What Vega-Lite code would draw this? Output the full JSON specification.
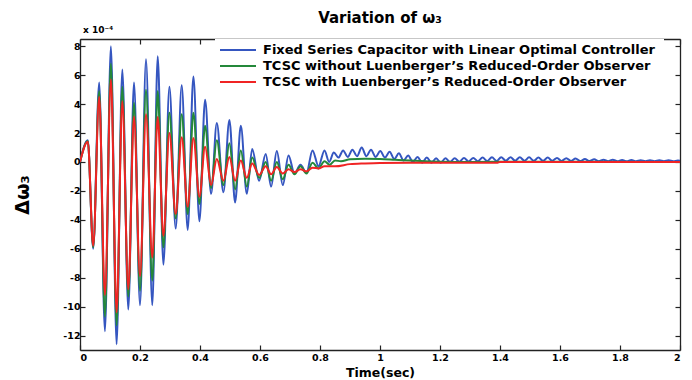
{
  "$schema": "https://vega.github.io/schema/vega-lite/v6.json",
  "width": 600,
  "height": 311,
  "autosize": {"type": "none"},
  "padding": {"left": 80, "top": 39, "right": 12, "bottom": 30},
  "background": "white",
  "config": {
    "view": {"stroke": null},
    "font": "DejaVu Sans",
    "axis": {
      "domainColor": "#222222",
      "domainWidth": 1.3,
      "tickColor": "#222222",
      "tickWidth": 1.2,
      "tickSize": -5,
      "grid": false,
      "labelFont": "DejaVu Sans",
      "labelFontWeight": "bold",
      "labelFontSize": 9.5,
      "labelColor": "#000000",
      "titleFont": "DejaVu Sans",
      "titleFontWeight": "bold",
      "titleColor": "#000000"
    }
  },
  "title": {
    "text": "Variation of ω₃",
    "fontSize": 15,
    "fontWeight": "bold",
    "font": "DejaVu Sans",
    "color": "#000000",
    "anchor": "middle",
    "offset": 0
  },
  "data": {
    "values": [
      {"t": 0, "s": "A", "v": 0}, {"t": 0.026, "s": "A", "v": 1.5}, {"t": 0.044, "s": "A", "v": -6.0}, {"t": 0.064, "s": "A", "v": 5.5},
      {"t": 0.083, "s": "A", "v": -11.7}, {"t": 0.103, "s": "A", "v": 8.0}, {"t": 0.122, "s": "A", "v": -12.6}, {"t": 0.141, "s": "A", "v": 6.4},
      {"t": 0.161, "s": "A", "v": -10.2}, {"t": 0.18, "s": "A", "v": 5.5}, {"t": 0.2, "s": "A", "v": -9.9}, {"t": 0.22, "s": "A", "v": 7.1},
      {"t": 0.241, "s": "A", "v": -9.9}, {"t": 0.259, "s": "A", "v": 7.3}, {"t": 0.278, "s": "A", "v": -7.1}, {"t": 0.298, "s": "A", "v": 5.2},
      {"t": 0.319, "s": "A", "v": -4.6}, {"t": 0.339, "s": "A", "v": 5.3}, {"t": 0.359, "s": "A", "v": -4.7}, {"t": 0.378, "s": "A", "v": 5.9},
      {"t": 0.398, "s": "A", "v": -4.1}, {"t": 0.417, "s": "A", "v": 4.3}, {"t": 0.437, "s": "A", "v": -2.2}, {"t": 0.456, "s": "A", "v": 2.7},
      {"t": 0.478, "s": "A", "v": -2.1}, {"t": 0.498, "s": "A", "v": 2.9}, {"t": 0.517, "s": "A", "v": -2.8}, {"t": 0.536, "s": "A", "v": 2.5},
      {"t": 0.556, "s": "A", "v": -2.2}, {"t": 0.574, "s": "A", "v": 0.9}, {"t": 0.597, "s": "A", "v": -1.3}, {"t": 0.619, "s": "A", "v": 0.55},
      {"t": 0.637, "s": "A", "v": -1.7}, {"t": 0.656, "s": "A", "v": 0.75}, {"t": 0.676, "s": "A", "v": -1.6}, {"t": 0.695, "s": "A", "v": 0.45},
      {"t": 0.715, "s": "A", "v": -0.8}, {"t": 0.735, "s": "A", "v": -0.2}, {"t": 0.755, "s": "A", "v": -0.75}, {"t": 0.775, "s": "A", "v": 0.8},
      {"t": 0.795, "s": "A", "v": -0.3}, {"t": 0.815, "s": "A", "v": 0.8}, {"t": 0.8305, "s": "A", "v": 0.0}, {"t": 0.846, "s": "A", "v": 0.65},
      {"t": 0.8615, "s": "A", "v": 0.3}, {"t": 0.877, "s": "A", "v": 0.8}, {"t": 0.8925, "s": "A", "v": 0.35}, {"t": 0.908, "s": "A", "v": 0.85},
      {"t": 0.9235, "s": "A", "v": 0.4}, {"t": 0.939, "s": "A", "v": 1.0}, {"t": 0.9545, "s": "A", "v": 0.4}, {"t": 0.97, "s": "A", "v": 0.85},
      {"t": 0.9855, "s": "A", "v": 0.35}, {"t": 1.001, "s": "A", "v": 0.75}, {"t": 1.0165, "s": "A", "v": 0.3}, {"t": 1.032, "s": "A", "v": 0.7},
      {"t": 1.0475, "s": "A", "v": 0.2}, {"t": 1.063, "s": "A", "v": 0.6}, {"t": 1.0785, "s": "A", "v": 0.1}, {"t": 1.094, "s": "A", "v": 0.45},
      {"t": 1.1095, "s": "A", "v": 0.0}, {"t": 1.125, "s": "A", "v": 0.35}, {"t": 1.1405, "s": "A", "v": -0.05}, {"t": 1.156, "s": "A", "v": 0.3},
      {"t": 1.1715, "s": "A", "v": -0.05}, {"t": 1.187, "s": "A", "v": 0.25}, {"t": 1.2025, "s": "A", "v": -0.05}, {"t": 1.218, "s": "A", "v": 0.25},
      {"t": 1.2335, "s": "A", "v": 0.0}, {"t": 1.249, "s": "A", "v": 0.25}, {"t": 1.2645, "s": "A", "v": 0.02}, {"t": 1.28, "s": "A", "v": 0.27},
      {"t": 1.2955, "s": "A", "v": 0.04}, {"t": 1.311, "s": "A", "v": 0.28}, {"t": 1.3265, "s": "A", "v": 0.05}, {"t": 1.342, "s": "A", "v": 0.3},
      {"t": 1.3575, "s": "A", "v": 0.06}, {"t": 1.373, "s": "A", "v": 0.32}, {"t": 1.3885, "s": "A", "v": 0.07}, {"t": 1.404, "s": "A", "v": 0.33},
      {"t": 1.4195, "s": "A", "v": 0.08}, {"t": 1.435, "s": "A", "v": 0.33}, {"t": 1.4505, "s": "A", "v": 0.08}, {"t": 1.466, "s": "A", "v": 0.33},
      {"t": 1.4815, "s": "A", "v": 0.08}, {"t": 1.497, "s": "A", "v": 0.32}, {"t": 1.5125, "s": "A", "v": 0.08}, {"t": 1.528, "s": "A", "v": 0.3},
      {"t": 1.5435, "s": "A", "v": 0.08}, {"t": 1.559, "s": "A", "v": 0.3}, {"t": 1.5745, "s": "A", "v": 0.08}, {"t": 1.59, "s": "A", "v": 0.28},
      {"t": 1.6055, "s": "A", "v": 0.07}, {"t": 1.621, "s": "A", "v": 0.26}, {"t": 1.6365, "s": "A", "v": 0.07}, {"t": 1.652, "s": "A", "v": 0.24},
      {"t": 1.6675, "s": "A", "v": 0.06}, {"t": 1.683, "s": "A", "v": 0.2}, {"t": 1.6985, "s": "A", "v": 0.06}, {"t": 1.714, "s": "A", "v": 0.18},
      {"t": 1.7295, "s": "A", "v": 0.05}, {"t": 1.745, "s": "A", "v": 0.16}, {"t": 1.7605, "s": "A", "v": 0.05}, {"t": 1.776, "s": "A", "v": 0.15},
      {"t": 1.7915, "s": "A", "v": 0.05}, {"t": 1.807, "s": "A", "v": 0.14}, {"t": 1.8225, "s": "A", "v": 0.05}, {"t": 1.838, "s": "A", "v": 0.13},
      {"t": 1.8535, "s": "A", "v": 0.05}, {"t": 1.869, "s": "A", "v": 0.12}, {"t": 1.8845, "s": "A", "v": 0.05}, {"t": 1.9, "s": "A", "v": 0.12},
      {"t": 1.9155, "s": "A", "v": 0.05}, {"t": 1.931, "s": "A", "v": 0.11}, {"t": 1.9465, "s": "A", "v": 0.05}, {"t": 1.962, "s": "A", "v": 0.11},
      {"t": 1.9775, "s": "A", "v": 0.05}, {"t": 1.993, "s": "A", "v": 0.1}, {"t": 2.0, "s": "A", "v": 0.08},

      {"t": 0, "s": "B", "v": 0}, {"t": 0.026, "s": "B", "v": 1.45}, {"t": 0.044, "s": "B", "v": -5.9}, {"t": 0.064, "s": "B", "v": 4.9},
      {"t": 0.083, "s": "B", "v": -10.7}, {"t": 0.103, "s": "B", "v": 6.8}, {"t": 0.122, "s": "B", "v": -11.3}, {"t": 0.141, "s": "B", "v": 5.2},
      {"t": 0.161, "s": "B", "v": -9.3}, {"t": 0.18, "s": "B", "v": 4.1}, {"t": 0.2, "s": "B", "v": -8.9}, {"t": 0.22, "s": "B", "v": 5.0},
      {"t": 0.241, "s": "B", "v": -8.2}, {"t": 0.259, "s": "B", "v": 4.9}, {"t": 0.278, "s": "B", "v": -5.9}, {"t": 0.298, "s": "B", "v": 3.4},
      {"t": 0.319, "s": "B", "v": -3.9}, {"t": 0.339, "s": "B", "v": 3.3}, {"t": 0.359, "s": "B", "v": -3.6}, {"t": 0.378, "s": "B", "v": 3.4},
      {"t": 0.398, "s": "B", "v": -2.9}, {"t": 0.417, "s": "B", "v": 2.5}, {"t": 0.437, "s": "B", "v": -1.8}, {"t": 0.456, "s": "B", "v": 1.5},
      {"t": 0.478, "s": "B", "v": -1.6}, {"t": 0.498, "s": "B", "v": 1.3}, {"t": 0.517, "s": "B", "v": -1.9}, {"t": 0.536, "s": "B", "v": 0.8},
      {"t": 0.556, "s": "B", "v": -1.7}, {"t": 0.574, "s": "B", "v": 0.3}, {"t": 0.597, "s": "B", "v": -1.1}, {"t": 0.619, "s": "B", "v": 0.0},
      {"t": 0.637, "s": "B", "v": -1.3}, {"t": 0.656, "s": "B", "v": 0.0}, {"t": 0.676, "s": "B", "v": -1.2}, {"t": 0.695, "s": "B", "v": -0.2},
      {"t": 0.715, "s": "B", "v": -0.85}, {"t": 0.735, "s": "B", "v": -0.3}, {"t": 0.755, "s": "B", "v": -0.8}, {"t": 0.775, "s": "B", "v": -0.05},
      {"t": 0.795, "s": "B", "v": -0.45}, {"t": 0.815, "s": "B", "v": 0.05}, {"t": 0.832, "s": "B", "v": -0.2}, {"t": 0.85, "s": "B", "v": 0.1},
      {"t": 0.87, "s": "B", "v": 0.05}, {"t": 0.9, "s": "B", "v": 0.18}, {"t": 0.95, "s": "B", "v": 0.22}, {"t": 1.0, "s": "B", "v": 0.2},
      {"t": 1.05, "s": "B", "v": 0.15}, {"t": 1.1, "s": "B", "v": 0.1}, {"t": 1.15, "s": "B", "v": 0.05}, {"t": 1.2, "s": "B", "v": 0.02},
      {"t": 1.3, "s": "B", "v": 0.0}, {"t": 1.5, "s": "B", "v": 0.02}, {"t": 1.7, "s": "B", "v": 0.02}, {"t": 2.0, "s": "B", "v": 0.0},

      {"t": 0, "s": "C", "v": 0}, {"t": 0.026, "s": "C", "v": 1.4}, {"t": 0.044, "s": "C", "v": -5.8}, {"t": 0.064, "s": "C", "v": 4.5},
      {"t": 0.083, "s": "C", "v": -9.2}, {"t": 0.103, "s": "C", "v": 5.7}, {"t": 0.122, "s": "C", "v": -10.4}, {"t": 0.141, "s": "C", "v": 4.2},
      {"t": 0.161, "s": "C", "v": -8.8}, {"t": 0.18, "s": "C", "v": 3.15}, {"t": 0.2, "s": "C", "v": -7.9}, {"t": 0.22, "s": "C", "v": 3.3},
      {"t": 0.241, "s": "C", "v": -6.6}, {"t": 0.259, "s": "C", "v": 3.1}, {"t": 0.278, "s": "C", "v": -5.1}, {"t": 0.298, "s": "C", "v": 2.0},
      {"t": 0.319, "s": "C", "v": -3.6}, {"t": 0.339, "s": "C", "v": 1.7}, {"t": 0.359, "s": "C", "v": -3.1}, {"t": 0.378, "s": "C", "v": 1.65},
      {"t": 0.398, "s": "C", "v": -2.4}, {"t": 0.417, "s": "C", "v": 1.05}, {"t": 0.437, "s": "C", "v": -1.6}, {"t": 0.456, "s": "C", "v": 0.2},
      {"t": 0.478, "s": "C", "v": -1.3}, {"t": 0.498, "s": "C", "v": 0.35}, {"t": 0.517, "s": "C", "v": -1.3}, {"t": 0.536, "s": "C", "v": 0.1},
      {"t": 0.556, "s": "C", "v": -1.1}, {"t": 0.574, "s": "C", "v": -0.1}, {"t": 0.597, "s": "C", "v": -0.9}, {"t": 0.619, "s": "C", "v": -0.3},
      {"t": 0.637, "s": "C", "v": -0.85}, {"t": 0.656, "s": "C", "v": -0.35}, {"t": 0.676, "s": "C", "v": -0.8}, {"t": 0.695, "s": "C", "v": -0.5},
      {"t": 0.715, "s": "C", "v": -0.7}, {"t": 0.735, "s": "C", "v": -0.5}, {"t": 0.755, "s": "C", "v": -0.65}, {"t": 0.775, "s": "C", "v": -0.4},
      {"t": 0.795, "s": "C", "v": -0.45}, {"t": 0.815, "s": "C", "v": -0.3}, {"t": 0.85, "s": "C", "v": -0.3}, {"t": 0.9, "s": "C", "v": -0.15},
      {"t": 0.95, "s": "C", "v": -0.1}, {"t": 1.0, "s": "C", "v": -0.07}, {"t": 1.1, "s": "C", "v": -0.06}, {"t": 1.39, "s": "C", "v": -0.06},
      {"t": 1.4, "s": "C", "v": 0.0}, {"t": 2.0, "s": "C", "v": 0.0}
    ]
  },
  "layer": [
    {
      "mark": {"type": "line", "interpolate": "monotone", "strokeWidth": 2, "clip": true},
      "encoding": {
        "x": {
          "field": "t", "type": "quantitative",
          "scale": {"domain": [0, 2], "nice": false},
          "axis": {
            "orient": "bottom",
            "values": [0, 0.2, 0.4, 0.6, 0.8, 1, 1.2, 1.4, 1.6, 1.8, 2],
            "labelExpr": "'' + datum.value",
            "labelPadding": 7,
            "title": "Time(sec)",
            "titleFontSize": 12.5,
            "titlePadding": 5
          }
        },
        "y": {
          "field": "v", "type": "quantitative",
          "scale": {"domain": [-13, 8.5], "nice": false, "zero": false},
          "axis": {
            "orient": "left",
            "values": [-12, -10, -8, -6, -4, -2, 0, 2, 4, 6, 8],
            "labelExpr": "'' + datum.value",
            "labelPadding": 5,
            "title": "Δω₃",
            "titleFontSize": 19,
            "titlePadding": 30
          }
        },
        "color": {
          "field": "s", "type": "nominal",
          "scale": {"domain": ["A", "B", "C"], "range": ["#3556c0", "#24883a", "#f02424"]},
          "legend": {
            "orient": "none",
            "legendX": 135,
            "legendY": 0,
            "title": null,
            "fillColor": "white",
            "padding": 4,
            "labelFont": "DejaVu Sans",
            "labelFontSize": 13,
            "labelFontWeight": "bold",
            "labelColor": "#000000",
            "labelLimit": 600,
            "symbolType": "M-1,0H5",
            "symbolSize": 144,
            "symbolStrokeWidth": 2,
            "labelOffset": 30,
            "rowPadding": 2,
            "labelExpr": "datum.label == 'A' ? 'Fixed Series Capacitor  with Linear Optimal Controller' : datum.label == 'B' ? 'TCSC without Luenberger’s Reduced-Order Observer' : 'TCSC with Luenberger’s Reduced-Order Observer'"
          }
        }
      }
    },
    {
      "data": {"values": [{"label": "x 10⁻⁴"}]},
      "mark": {"type": "text", "align": "left", "baseline": "bottom", "dx": 3, "dy": -4, "fontSize": 9, "fontWeight": "bold", "font": "DejaVu Sans", "color": "#000000"},
      "encoding": {
        "x": {"datum": 0, "type": "quantitative", "axis": {"orient": "top", "labels": false, "title": null, "values": [0, 0.2, 0.4, 0.6, 0.8, 1, 1.2, 1.4, 1.6, 1.8, 2]}},
        "y": {"datum": 8.5, "type": "quantitative", "axis": {"orient": "right", "labels": false, "title": null, "values": [-12, -10, -8, -6, -4, -2, 0, 2, 4, 6, 8]}},
        "text": {"field": "label"}
      }
    }
  ],
  "resolve": {"axis": {"x": "independent", "y": "independent"}}
}
